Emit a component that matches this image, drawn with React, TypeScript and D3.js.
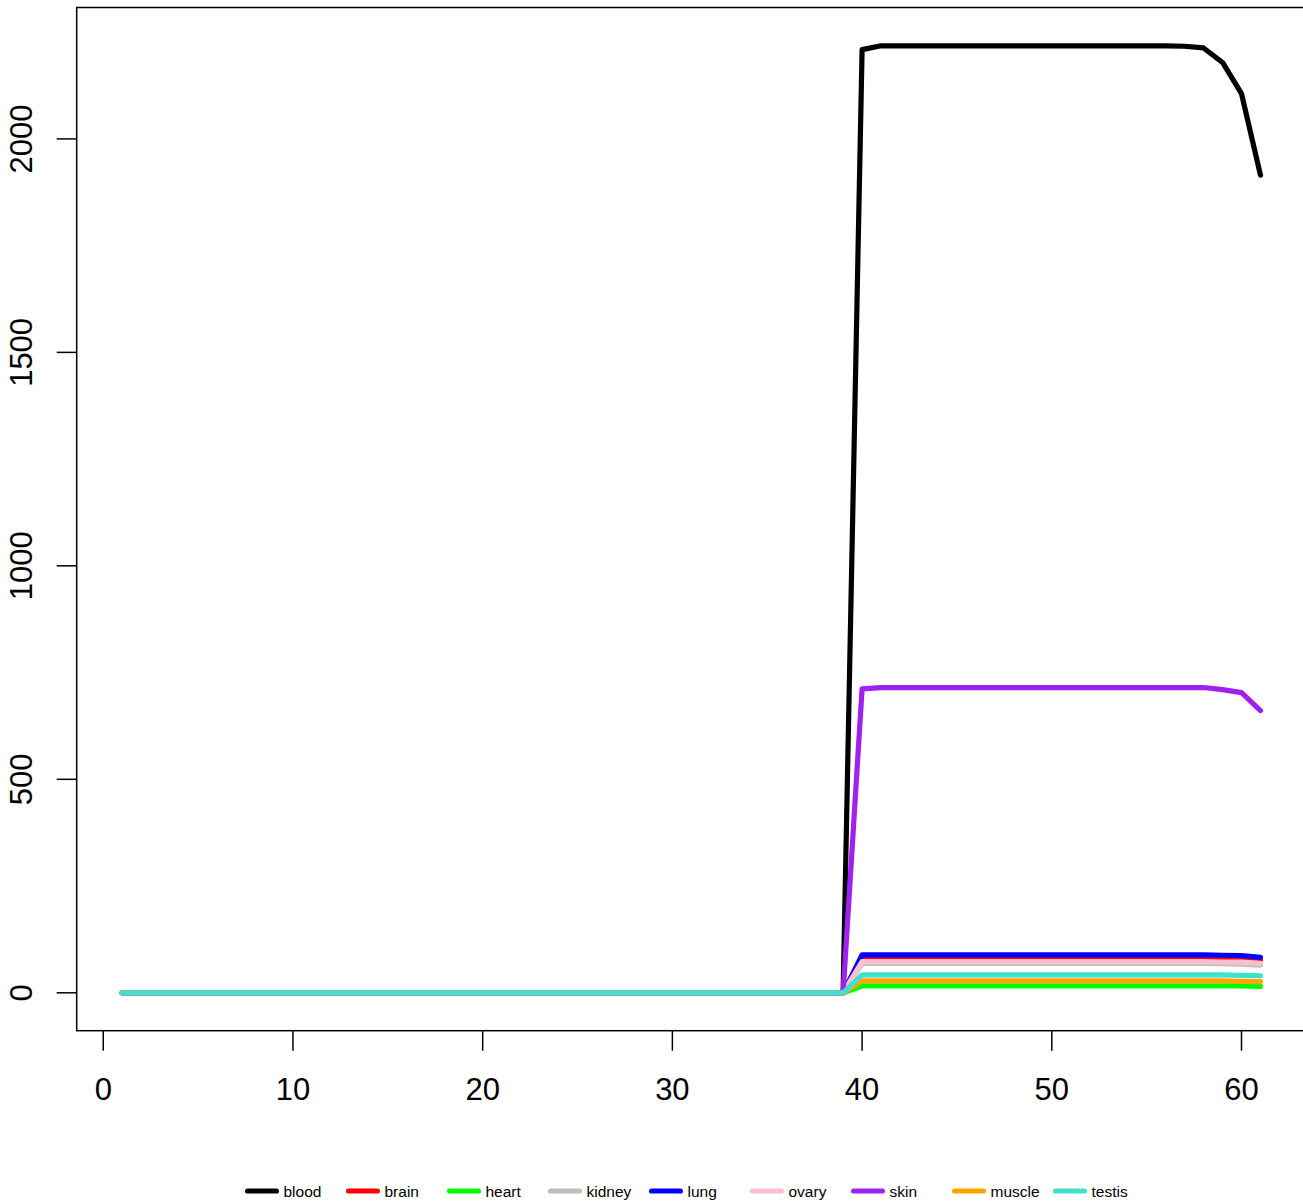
import React from "react";
import * as d3 from "d3";

const tissues = ["blood", "brain", "heart", "kidney", "lung", "ovary", "skin", "muscle", "testis"];
const colors = ["#000000", "#FF0000", "#00FF00", "#BEBEBE", "#0000FF", "#FFC0CB", "#A020F0", "#FFA500", "#40E0D0"];

const xIndex = d3.range(1, 62);

const zeros39 = [0,0,0,0,0,0,0,0,0,0, 0,0,0,0,0,0,0,0,0,0, 0,0,0,0,0,0,0,0,0,0, 0,0,0,0,0,0,0,0,0];

const blood = [...zeros39, 2209, 2218, 2218, 2218, 2218, 2218, 2218, 2218, 2218, 2218, 2218, 2218, 2218, 2218, 2218, 2218, 2218, 2217, 2213, 2179, 2106, 1915];
const brain = [...zeros39, 80, 80, 80, 80, 80, 80, 80, 80, 80, 80, 80, 80, 80, 80, 80, 80, 80, 80, 80, 79, 78, 77];
const heart = [...zeros39, 16, 16, 16, 16, 16, 16, 16, 16, 16, 16, 16, 16, 16, 16, 16, 16, 16, 16, 16, 16, 16, 15];
const kidney = [...zeros39, 69, 69, 69, 69, 69, 69, 69, 69, 69, 69, 69, 69, 69, 69, 69, 69, 69, 69, 69, 68, 67, 65];
const lung = [...zeros39, 89, 89, 89, 89, 89, 89, 89, 89, 89, 89, 89, 89, 89, 89, 89, 89, 89, 89, 89, 88, 87, 83];
const ovary = [...zeros39, 73, 73, 73, 73, 73, 73, 73, 73, 73, 73, 73, 73, 73, 73, 73, 73, 73, 73, 73, 72, 72, 69];
const skin = [...zeros39, 712, 715, 715, 715, 715, 715, 715, 715, 715, 715, 715, 715, 715, 715, 715, 715, 715, 715, 715, 710, 703, 661];
const muscle = [...zeros39, 28, 28, 28, 28, 28, 28, 28, 28, 28, 28, 28, 28, 28, 28, 28, 28, 28, 28, 28, 28, 27, 26];
const testis = [...zeros39, 42, 42, 42, 42, 42, 42, 42, 42, 42, 42, 42, 42, 42, 42, 42, 42, 42, 42, 42, 42, 41, 40];

const seriesValues = [blood, brain, heart, kidney, lung, ovary, skin, muscle, testis];

const xTicks = [0, 10, 20, 30, 40, 50, 60];
const yTicks = [0, 500, 1000, 1500, 2000];

const W = 1303;
const H = 1203;
const FONT = "'Liberation Sans', Arial, Helvetica, sans-serif";

export default function App() {
  const left = 76.7;
  const right = 1306;
  const top = 7.5;
  const bottom = 1030.7;

  const xMin = 1, xMax = 61;
  const xPad = (xMax - xMin) * 0.04;
  const x = d3.scaleLinear().domain([xMin - xPad, xMax + xPad]).range([left, right]);

  const yMax = 2219;
  const yPad = yMax * 0.04;
  const y = d3.scaleLinear().domain([-yPad, yMax + yPad]).range([bottom, top]);

  const line = d3
    .line<number>()
    .x((_, i) => x(xIndex[i]))
    .y((d) => y(d));

  const lw = 5.2;
  const legendY = 1191;
  const legendStart = 245;
  const legendStep = 101;

  return (
    <svg
      width={W}
      height={H}
      style={{ position: "absolute", left: 0, top: 0, background: "#fff" }}
      fontFamily={FONT}
    >
      <rect x={0} y={0} width={W} height={H} fill="#fff" />
      {seriesValues.map((vals, k) => (
        <path
          key={tissues[k]}
          d={line(vals) || ""}
          fill="none"
          stroke={colors[k]}
          strokeWidth={lw}
          strokeLinecap="round"
          strokeLinejoin="round"
        />
      ))}
      <rect x={left} y={top} width={right - left} height={bottom - top} fill="none" stroke="#000" strokeWidth={1.5} />
      {/* x axis */}
      {xTicks.map((t) => (
        <g key={"x" + t}>
          <line x1={x(t)} x2={x(t)} y1={bottom} y2={bottom + 20} stroke="#000" strokeWidth={1.5} />
          <text x={x(t)} y={1100} textAnchor="middle" fontSize={31} fill="#000">
            {t}
          </text>
        </g>
      ))}
      {/* y axis */}
      {yTicks.map((t) => (
        <g key={"y" + t}>
          <line x1={left - 20} x2={left} y1={y(t)} y2={y(t)} stroke="#000" strokeWidth={1.5} />
          <text
            transform={`translate(32,${y(t)}) rotate(-90)`}
            textAnchor="middle"
            fontSize={31}
            fill="#000"
          >
            {t}
          </text>
        </g>
      ))}
      {/* legend */}
      {tissues.map((name, i) => {
        const lx = legendStart + legendStep * i;
        return (
          <g key={"lg" + name}>
            <line
              x1={lx + 2.6}
              x2={lx + 34 - 2.6}
              y1={legendY}
              y2={legendY}
              stroke={colors[i]}
              strokeWidth={lw}
              strokeLinecap="round"
            />
            <text x={lx + 38.5} y={legendY + 5.5} fontSize={15.5} fill="#000">
              {name}
            </text>
          </g>
        );
      })}
    </svg>
  );
}
